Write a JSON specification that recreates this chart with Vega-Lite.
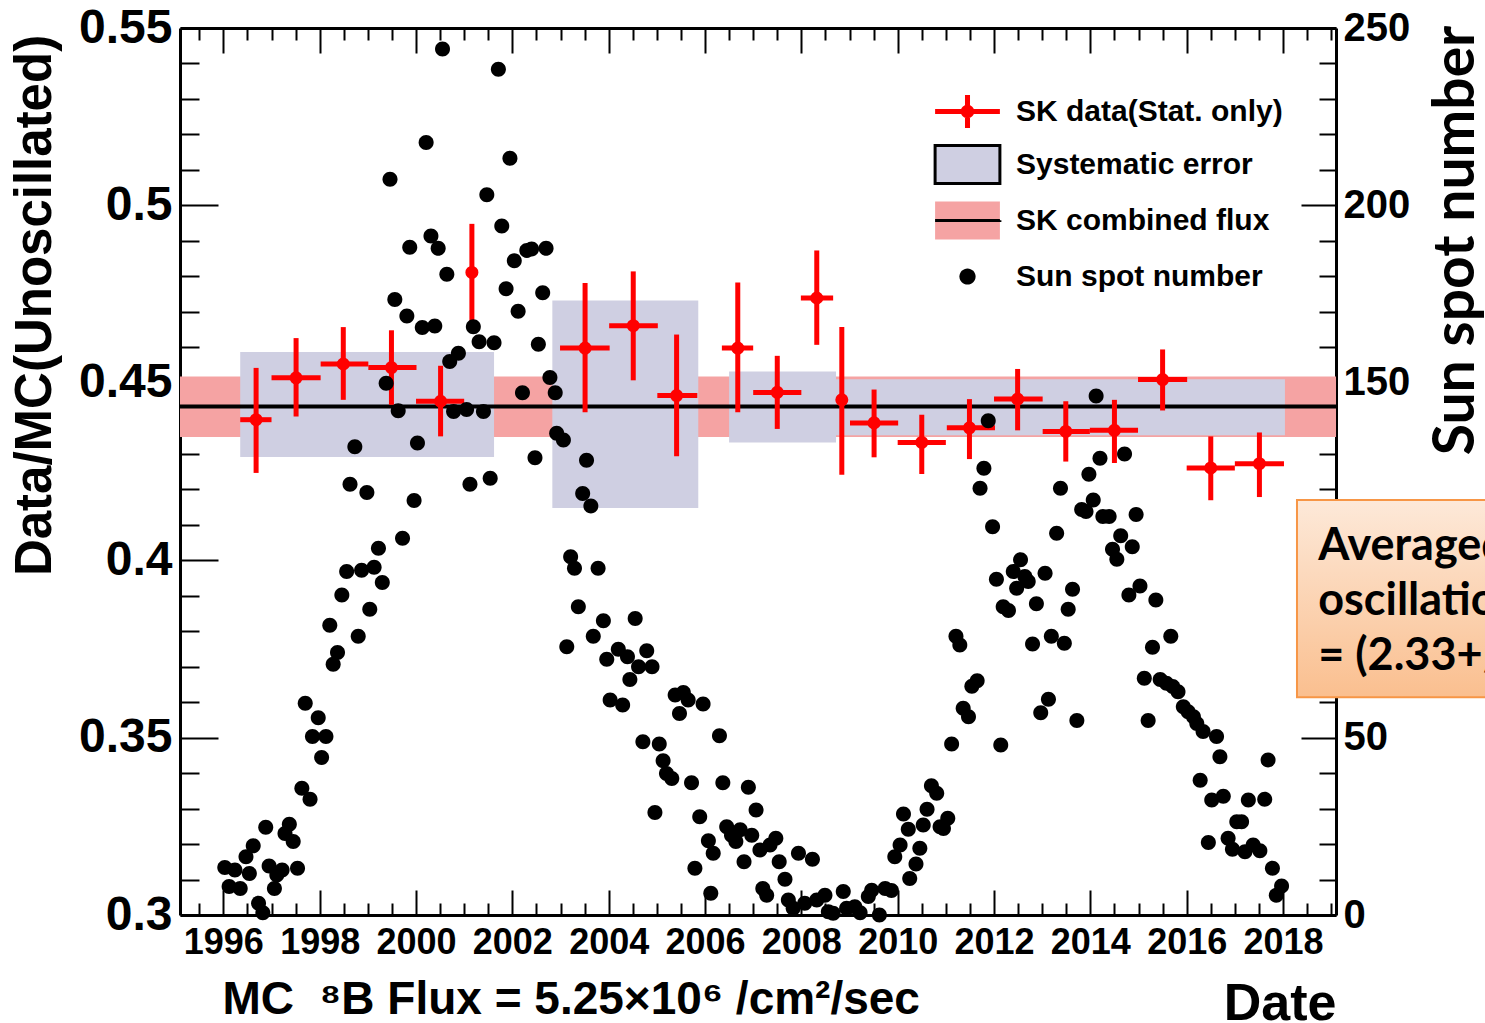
{
  "$schema": "https://vega.github.io/schema/vega-lite/v6.json",
  "autosize": {"type": "none"},
  "padding": {"left": 180, "top": 28, "right": 149, "bottom": 108},
  "width": 1156,
  "height": 887,
  "background": "white",
  "config": {"view": {"stroke": null}, "font": "Liberation Sans", "axis": {"labelOverlap": false, "labelFlush": false}},
  "datasets": {
    "band": [{"lo": 0.4347, "hi": 0.4518}],
    "sys": [
      {"x1": 1996.35, "x2": 2001.62, "lo": 0.4291, "hi": 0.4587},
      {"x1": 2002.83, "x2": 2005.86, "lo": 0.4147, "hi": 0.4732},
      {"x1": 2006.5, "x2": 2008.72, "lo": 0.4332, "hi": 0.4532},
      {"x1": 2008.72, "x2": 2018.04, "lo": 0.4352, "hi": 0.451}
    ],
    "sk": [
      {"x": 1996.68, "xlo": 1996.35, "xhi": 1997.0, "v": 0.4396, "lo": 0.4246, "hi": 0.4542},
      {"x": 1997.51, "xlo": 1997.0, "xhi": 1998.02, "v": 0.4514, "lo": 0.4405, "hi": 0.4626},
      {"x": 1998.49, "xlo": 1998.02, "xhi": 1999.01, "v": 0.4553, "lo": 0.4452, "hi": 0.4657},
      {"x": 1999.49, "xlo": 1999.01, "xhi": 2000.01, "v": 0.4543, "lo": 0.4438, "hi": 0.4648},
      {"x": 2000.51, "xlo": 2000.0, "xhi": 2001.0, "v": 0.4448, "lo": 0.4349, "hi": 0.4548},
      {"x": 2001.16, "xlo": 2001.1, "xhi": 2001.22, "v": 0.4811, "lo": 0.4673, "hi": 0.4948},
      {"x": 2003.51, "xlo": 2002.99, "xhi": 2004.02, "v": 0.4598, "lo": 0.4417, "hi": 0.4781},
      {"x": 2004.51, "xlo": 2004.01, "xhi": 2005.02, "v": 0.4661, "lo": 0.4507, "hi": 0.4814},
      {"x": 2005.41, "xlo": 2005.01, "xhi": 2005.84, "v": 0.4464, "lo": 0.4293, "hi": 0.4636},
      {"x": 2006.68, "xlo": 2006.35, "xhi": 2007.0, "v": 0.4598, "lo": 0.4417, "hi": 0.4783},
      {"x": 2007.5, "xlo": 2007.0, "xhi": 2008.0, "v": 0.4473, "lo": 0.437, "hi": 0.4576},
      {"x": 2008.32, "xlo": 2007.99, "xhi": 2008.66, "v": 0.4739, "lo": 0.4607, "hi": 0.4873},
      {"x": 2008.84, "xlo": 2008.78, "xhi": 2008.9, "v": 0.4452, "lo": 0.4241, "hi": 0.4657},
      {"x": 2009.51, "xlo": 2009.01, "xhi": 2010.01, "v": 0.4387, "lo": 0.429, "hi": 0.4481},
      {"x": 2010.5, "xlo": 2010.0, "xhi": 2011.0, "v": 0.4332, "lo": 0.4243, "hi": 0.441},
      {"x": 2011.49, "xlo": 2011.02, "xhi": 2012.02, "v": 0.4373, "lo": 0.4285, "hi": 0.4454},
      {"x": 2012.49, "xlo": 2012.0, "xhi": 2013.01, "v": 0.4454, "lo": 0.4366, "hi": 0.4539},
      {"x": 2013.49, "xlo": 2013.01, "xhi": 2013.99, "v": 0.4363, "lo": 0.4278, "hi": 0.4448},
      {"x": 2014.5, "xlo": 2013.99, "xhi": 2014.99, "v": 0.4366, "lo": 0.4274, "hi": 0.4452},
      {"x": 2015.5, "xlo": 2014.99, "xhi": 2016.01, "v": 0.4509, "lo": 0.4422, "hi": 0.4594},
      {"x": 2016.5, "xlo": 2016.0, "xhi": 2017.0, "v": 0.426, "lo": 0.4169, "hi": 0.4349},
      {"x": 2017.51, "xlo": 2017.0, "xhi": 2018.02, "v": 0.4272, "lo": 0.4178, "hi": 0.436}
    ],
    "sun": [
      {"t": 1996.03, "n": 13.4}, {"t": 1996.12, "n": 8.0}, {"t": 1996.24, "n": 12.7}, {"t": 1996.35, "n": 7.5},
      {"t": 1996.47, "n": 16.4}, {"t": 1996.54, "n": 11.7}, {"t": 1996.62, "n": 19.5}, {"t": 1996.73, "n": 3.3},
      {"t": 1996.82, "n": 0.6}, {"t": 1996.88, "n": 24.7}, {"t": 1996.95, "n": 13.8}, {"t": 1997.06, "n": 7.5},
      {"t": 1997.11, "n": 11.3}, {"t": 1997.22, "n": 12.7}, {"t": 1997.28, "n": 23.0}, {"t": 1997.37, "n": 25.6},
      {"t": 1997.45, "n": 20.7}, {"t": 1997.54, "n": 13.2}, {"t": 1997.63, "n": 35.7}, {"t": 1997.7, "n": 59.7},
      {"t": 1997.8, "n": 32.6}, {"t": 1997.85, "n": 50.3}, {"t": 1997.97, "n": 55.6}, {"t": 1998.04, "n": 44.4},
      {"t": 1998.13, "n": 50.3}, {"t": 1998.21, "n": 81.7}, {"t": 1998.28, "n": 70.7}, {"t": 1998.37, "n": 74.0},
      {"t": 1998.46, "n": 90.2}, {"t": 1998.56, "n": 96.8}, {"t": 1998.63, "n": 121.4}, {"t": 1998.73, "n": 132.0},
      {"t": 1998.8, "n": 78.6}, {"t": 1998.87, "n": 97.2}, {"t": 1998.98, "n": 119.1}, {"t": 1999.04, "n": 86.2},
      {"t": 1999.13, "n": 98.0}, {"t": 1999.22, "n": 103.4}, {"t": 1999.3, "n": 93.7}, {"t": 1999.38, "n": 149.9},
      {"t": 1999.46, "n": 207.4}, {"t": 1999.56, "n": 173.5}, {"t": 1999.63, "n": 142.1}, {"t": 1999.72, "n": 106.2},
      {"t": 1999.81, "n": 168.8}, {"t": 1999.87, "n": 188.2}, {"t": 1999.96, "n": 116.8}, {"t": 2000.03, "n": 133.0},
      {"t": 2000.13, "n": 165.6}, {"t": 2000.21, "n": 217.7}, {"t": 2000.31, "n": 191.4}, {"t": 2000.39, "n": 166.0},
      {"t": 2000.46, "n": 187.9}, {"t": 2000.55, "n": 244.1}, {"t": 2000.64, "n": 180.6}, {"t": 2000.7, "n": 156.0},
      {"t": 2000.78, "n": 141.9}, {"t": 2000.88, "n": 158.3}, {"t": 2001.05, "n": 142.5}, {"t": 2001.12, "n": 121.4},
      {"t": 2001.19, "n": 165.8}, {"t": 2001.31, "n": 161.6}, {"t": 2001.4, "n": 141.9}, {"t": 2001.47, "n": 203.0},
      {"t": 2001.54, "n": 123.1}, {"t": 2001.62, "n": 161.3}, {"t": 2001.71, "n": 238.4}, {"t": 2001.78, "n": 194.2},
      {"t": 2001.87, "n": 176.5}, {"t": 2001.95, "n": 213.3}, {"t": 2002.04, "n": 184.4}, {"t": 2002.12, "n": 170.2},
      {"t": 2002.21, "n": 147.2}, {"t": 2002.3, "n": 187.3}, {"t": 2002.4, "n": 187.7}, {"t": 2002.47, "n": 128.9},
      {"t": 2002.54, "n": 160.9}, {"t": 2002.63, "n": 175.4}, {"t": 2002.7, "n": 187.9}, {"t": 2002.78, "n": 151.5},
      {"t": 2002.89, "n": 147.2}, {"t": 2002.92, "n": 135.8}, {"t": 2003.06, "n": 133.9}, {"t": 2003.13, "n": 75.6},
      {"t": 2003.21, "n": 101.0}, {"t": 2003.29, "n": 97.7}, {"t": 2003.37, "n": 86.9}, {"t": 2003.46, "n": 118.8},
      {"t": 2003.54, "n": 128.2}, {"t": 2003.63, "n": 115.3}, {"t": 2003.68, "n": 78.6}, {"t": 2003.78, "n": 97.7},
      {"t": 2003.89, "n": 82.9}, {"t": 2003.96, "n": 72.1}, {"t": 2004.03, "n": 60.6}, {"t": 2004.2, "n": 74.9},
      {"t": 2004.29, "n": 59.2}, {"t": 2004.39, "n": 72.8}, {"t": 2004.44, "n": 66.4}, {"t": 2004.55, "n": 83.6},
      {"t": 2004.62, "n": 70.0}, {"t": 2004.71, "n": 48.8}, {"t": 2004.79, "n": 74.5}, {"t": 2004.9, "n": 70.0},
      {"t": 2004.96, "n": 28.9}, {"t": 2005.05, "n": 48.2}, {"t": 2005.13, "n": 43.5}, {"t": 2005.2, "n": 39.9},
      {"t": 2005.31, "n": 38.5}, {"t": 2005.38, "n": 62.0}, {"t": 2005.47, "n": 56.8}, {"t": 2005.55, "n": 62.7},
      {"t": 2005.65, "n": 60.6}, {"t": 2005.72, "n": 37.3}, {"t": 2005.79, "n": 13.2}, {"t": 2005.89, "n": 27.7},
      {"t": 2005.96, "n": 59.5}, {"t": 2006.07, "n": 20.9}, {"t": 2006.12, "n": 6.1}, {"t": 2006.17, "n": 17.4},
      {"t": 2006.3, "n": 50.5}, {"t": 2006.37, "n": 37.3}, {"t": 2006.45, "n": 24.9}, {"t": 2006.55, "n": 22.5},
      {"t": 2006.64, "n": 20.7}, {"t": 2006.73, "n": 24.0}, {"t": 2006.81, "n": 15.0}, {"t": 2006.9, "n": 36.0},
      {"t": 2006.97, "n": 22.5}, {"t": 2007.06, "n": 29.6}, {"t": 2007.14, "n": 18.3}, {"t": 2007.2, "n": 7.5},
      {"t": 2007.28, "n": 5.6}, {"t": 2007.35, "n": 19.7}, {"t": 2007.47, "n": 21.6}, {"t": 2007.54, "n": 15.0},
      {"t": 2007.66, "n": 10.1}, {"t": 2007.73, "n": 4.2}, {"t": 2007.83, "n": 1.9}, {"t": 2007.94, "n": 17.4},
      {"t": 2008.07, "n": 3.3}, {"t": 2008.23, "n": 15.7}, {"t": 2008.32, "n": 4.2}, {"t": 2008.49, "n": 5.6},
      {"t": 2008.56, "n": 0.9}, {"t": 2008.66, "n": 0.5}, {"t": 2008.87, "n": 6.6}, {"t": 2008.94, "n": 1.9},
      {"t": 2009.11, "n": 2.3}, {"t": 2009.22, "n": 0.6}, {"t": 2009.39, "n": 5.2}, {"t": 2009.46, "n": 7.0},
      {"t": 2009.62, "n": 0.0}, {"t": 2009.74, "n": 7.5}, {"t": 2009.87, "n": 6.9}, {"t": 2009.94, "n": 16.4},
      {"t": 2010.05, "n": 19.7}, {"t": 2010.12, "n": 28.5}, {"t": 2010.22, "n": 24.2}, {"t": 2010.25, "n": 10.3},
      {"t": 2010.38, "n": 14.4}, {"t": 2010.46, "n": 18.8}, {"t": 2010.53, "n": 25.4}, {"t": 2010.61, "n": 29.8},
      {"t": 2010.7, "n": 36.4}, {"t": 2010.81, "n": 34.3}, {"t": 2010.88, "n": 24.9}, {"t": 2010.95, "n": 24.4},
      {"t": 2011.04, "n": 27.3}, {"t": 2011.12, "n": 48.2}, {"t": 2011.21, "n": 78.6}, {"t": 2011.29, "n": 76.1},
      {"t": 2011.36, "n": 58.3}, {"t": 2011.47, "n": 55.9}, {"t": 2011.54, "n": 64.5}, {"t": 2011.65, "n": 66.0},
      {"t": 2011.71, "n": 120.3}, {"t": 2011.79, "n": 125.9}, {"t": 2011.88, "n": 139.3}, {"t": 2011.97, "n": 109.4},
      {"t": 2012.05, "n": 94.6}, {"t": 2012.14, "n": 47.9}, {"t": 2012.19, "n": 86.9}, {"t": 2012.3, "n": 85.8},
      {"t": 2012.4, "n": 96.8}, {"t": 2012.47, "n": 92.1}, {"t": 2012.55, "n": 100.1}, {"t": 2012.64, "n": 95.4},
      {"t": 2012.71, "n": 94.0}, {"t": 2012.8, "n": 76.4}, {"t": 2012.88, "n": 87.7}, {"t": 2012.97, "n": 57.0},
      {"t": 2013.06, "n": 96.3}, {"t": 2013.13, "n": 60.8}, {"t": 2013.19, "n": 78.6}, {"t": 2013.3, "n": 107.6},
      {"t": 2013.38, "n": 120.3}, {"t": 2013.46, "n": 76.6}, {"t": 2013.54, "n": 86.2}, {"t": 2013.63, "n": 91.8},
      {"t": 2013.72, "n": 54.8}, {"t": 2013.82, "n": 114.3}, {"t": 2013.91, "n": 113.7}, {"t": 2013.97, "n": 124.2},
      {"t": 2014.06, "n": 117.0}, {"t": 2014.12, "n": 146.3}, {"t": 2014.2, "n": 128.7}, {"t": 2014.26, "n": 112.3},
      {"t": 2014.39, "n": 112.3}, {"t": 2014.46, "n": 103.1}, {"t": 2014.55, "n": 100.3}, {"t": 2014.63, "n": 106.9},
      {"t": 2014.71, "n": 129.9}, {"t": 2014.8, "n": 90.2}, {"t": 2014.87, "n": 103.8}, {"t": 2014.95, "n": 112.9},
      {"t": 2015.03, "n": 92.7}, {"t": 2015.12, "n": 66.7}, {"t": 2015.2, "n": 54.8}, {"t": 2015.29, "n": 75.5},
      {"t": 2015.36, "n": 88.8}, {"t": 2015.45, "n": 66.4}, {"t": 2015.58, "n": 65.3}, {"t": 2015.67, "n": 78.6},
      {"t": 2015.71, "n": 64.4}, {"t": 2015.82, "n": 62.9}, {"t": 2015.93, "n": 58.7}, {"t": 2016.03, "n": 57.3},
      {"t": 2016.14, "n": 55.9}, {"t": 2016.21, "n": 54.0}, {"t": 2016.28, "n": 38.0}, {"t": 2016.34, "n": 51.7},
      {"t": 2016.45, "n": 20.4}, {"t": 2016.52, "n": 32.4}, {"t": 2016.62, "n": 50.3}, {"t": 2016.69, "n": 44.6},
      {"t": 2016.76, "n": 33.5}, {"t": 2016.86, "n": 21.6}, {"t": 2016.95, "n": 18.5}, {"t": 2017.04, "n": 26.3},
      {"t": 2017.14, "n": 26.3}, {"t": 2017.21, "n": 17.8}, {"t": 2017.28, "n": 32.4}, {"t": 2017.38, "n": 19.7},
      {"t": 2017.52, "n": 18.1}, {"t": 2017.62, "n": 32.6}, {"t": 2017.69, "n": 43.7}, {"t": 2017.78, "n": 13.2},
      {"t": 2017.86, "n": 5.6}, {"t": 2017.97, "n": 8.2}
    ]
  },
  "layer": [
    {
      "data": {"name": "band"},
      "mark": {"type": "rect", "color": "#f5a3a3"},
      "encoding": {
        "y": {
          "field": "lo", "type": "quantitative",
          "scale": {"domain": [0.3, 0.55], "nice": false, "zero": false},
          "axis": {
            "orient": "left",
            "values": [0.3,0.31,0.32,0.33,0.34,0.35,0.36,0.37,0.38,0.39,0.4,0.41,0.42,0.43,0.44,0.45,0.46,0.47,0.48,0.49,0.5,0.51,0.52,0.53,0.54,0.55],
            "labelExpr": "round(datum.value*100) % 5 === 0 ? format(datum.value, '~g') : ''",
            "tickSize": {"condition": {"test": "round(datum.value*100) % 5 === 0", "value": -38}, "value": -19},
            "tickWidth": 2, "tickColor": "black",
            "domainColor": "black", "domainWidth": 3,
            "grid": false,
            "labelFont": "Liberation Sans", "labelFontWeight": "bold", "labelFontSize": 48, "labelColor": "black",
            "labelPadding": 46, "labelOverlap": false, "labelFlush": false, "labelBaseline": "middle",
            "title": "Data/MC(Unoscillated)",
            "titleFont": "Liberation Sans", "titleFontWeight": "bold", "titleFontSize": 51, "titleColor": "black",
            "titleX": -145, "titleY": 277, "titleAngle": -90, "titleAlign": "center", "titleBaseline": "middle"
          }
        },
        "y2": {"field": "hi"}
      }
    },
    {
      "data": {"name": "sys"},
      "mark": {"type": "rect", "color": "#cfcfe2"},
      "encoding": {
        "x": {
          "field": "x1", "type": "quantitative",
          "scale": {"domain": [1995.1, 2019.1], "nice": false, "zero": false},
          "axis": {
            "orient": "bottom",
            "values": [1995.5,1996,1996.5,1997,1997.5,1998,1998.5,1999,1999.5,2000,2000.5,2001,2001.5,2002,2002.5,2003,2003.5,2004,2004.5,2005,2005.5,2006,2006.5,2007,2007.5,2008,2008.5,2009,2009.5,2010,2010.5,2011,2011.5,2012,2012.5,2013,2013.5,2014,2014.5,2015,2015.5,2016,2016.5,2017,2017.5,2018,2018.5,2019],
            "labelExpr": "datum.value % 2 === 0 ? format(datum.value, 'd') : ''",
            "tickSize": {"condition": {"test": "datum.value % 2 === 0", "value": -25}, "value": -12},
            "tickWidth": 2, "tickColor": "black",
            "domainColor": "black", "domainWidth": 3,
            "grid": false,
            "labelFont": "Liberation Sans", "labelFontWeight": "bold", "labelFontSize": 36, "labelColor": "black",
            "labelPadding": 35, "labelOverlap": false, "labelFlush": false,
            "title": "Date",
            "titleFont": "Liberation Sans", "titleFontWeight": "bold", "titleFontSize": 52, "titleColor": "black",
            "titleX": 1156, "titleY": 104, "titleAlign": "right", "titleBaseline": "alphabetic"
          }
        },
        "x2": {"field": "x2"},
        "y": {"field": "lo", "type": "quantitative", "scale": {"domain": [0.3, 0.55], "nice": false, "zero": false}, "axis": null},
        "y2": {"field": "hi"}
      }
    },
    {
      "layer": [
        {
          "data": {"values": [{}]},
          "mark": {"type": "rule", "color": "black", "strokeWidth": 4},
          "encoding": {"y": {"datum": 0.4433, "type": "quantitative", "scale": {"domain": [0.3, 0.55], "nice": false, "zero": false}, "axis": null}}
        },
        {
          "data": {"name": "sk"},
          "mark": {"type": "rule", "strokeWidth": 5, "color": "#ff0000"},
          "encoding": {
            "x": {"field": "x", "type": "quantitative", "axis": null},
            "y": {"field": "lo", "type": "quantitative", "axis": null},
            "y2": {"field": "hi"}
          }
        },
        {
          "data": {"name": "sk"},
          "mark": {"type": "rule", "strokeWidth": 5, "color": "#ff0000"},
          "encoding": {
            "x": {"field": "xlo", "type": "quantitative", "axis": null},
            "x2": {"field": "xhi"},
            "y": {"field": "v", "type": "quantitative", "axis": null}
          }
        },
        {
          "data": {"name": "sk"},
          "mark": {"type": "circle", "size": 170, "opacity": 1, "color": "#ff0000"},
          "encoding": {
            "x": {"field": "x", "type": "quantitative", "axis": null},
            "y": {"field": "v", "type": "quantitative", "axis": null}
          }
        },
        {
          "data": {"values": [{}]},
          "mark": {
            "type": "rect", "stroke": "#f79646", "strokeWidth": 2,
            "fill": {"gradient": "linear", "x1": 0, "y1": 0, "x2": 0, "y2": 1, "stops": [{"offset": 0, "color": "#fde9d9"}, {"offset": 1, "color": "#fabf8f"}]}
          },
          "encoding": {
            "x": {"datum": 2018.29, "type": "quantitative", "axis": null},
            "x2": {"datum": 2022.5},
            "y": {"datum": 0.417, "type": "quantitative", "axis": null},
            "y2": {"datum": 0.3614}
          }
        },
        {
          "data": {"values": [{}]},
          "mark": {"type": "text", "align": "left", "baseline": "alphabetic", "font": "Lato", "fontWeight": "bold", "fontSize": 45, "lineHeight": 55, "color": "black"},
          "encoding": {
            "x": {"datum": 2018.73, "type": "quantitative", "axis": null},
            "y": {"datum": 0.4001, "type": "quantitative", "axis": null},
            "text": {"value": ["Averaged", "oscillation", "= (2.33+/-"]}
          }
        }
      ]
    },
    {
      "data": {"name": "sun"},
      "mark": {"type": "point", "filled": true, "opacity": 1, "size": 2500},
      "encoding": {
        "x": {
          "field": "t", "type": "quantitative",
          "scale": {"domain": [1995.1, 2019.1], "nice": false, "zero": false},
          "axis": {
            "orient": "top",
            "values": [1995.5,1996,1996.5,1997,1997.5,1998,1998.5,1999,1999.5,2000,2000.5,2001,2001.5,2002,2002.5,2003,2003.5,2004,2004.5,2005,2005.5,2006,2006.5,2007,2007.5,2008,2008.5,2009,2009.5,2010,2010.5,2011,2011.5,2012,2012.5,2013,2013.5,2014,2014.5,2015,2015.5,2016,2016.5,2017,2017.5,2018,2018.5,2019],
            "labels": false, "grid": false,
            "tickSize": {"condition": {"test": "datum.value % 2 === 0", "value": -25}, "value": -12},
            "tickWidth": 2, "tickColor": "black",
            "domainColor": "black", "domainWidth": 3,
            "title": "MC\u00a0\u00a0\u2078B Flux = 5.25\u00d710\u2076 /cm\u00b2/sec",
            "titleFont": "Liberation Sans", "titleFontWeight": "bold", "titleFontSize": 46, "titleColor": "black",
            "titleX": 42, "titleY": 985, "titleAlign": "left", "titleBaseline": "alphabetic", "titleAngle": 0
          }
        },
        "y": {
          "field": "n", "type": "quantitative",
          "scale": {"domain": [0, 250], "nice": false, "zero": false},
          "axis": {
            "orient": "right",
            "values": [0,10,20,30,40,50,60,70,80,90,100,110,120,130,140,150,160,170,180,190,200,210,220,230,240,250],
            "labelExpr": "datum.value % 50 === 0 ? format(datum.value, 'd') : ''",
            "tickSize": {"condition": {"test": "datum.value % 50 === 0", "value": -35}, "value": -17},
            "tickWidth": 2, "tickColor": "black",
            "domainColor": "black", "domainWidth": 3,
            "grid": false,
            "labelFont": "Liberation Sans", "labelFontWeight": "bold", "labelFontSize": 40, "labelColor": "black",
            "labelPadding": 42, "labelOverlap": false, "labelFlush": false, "labelBaseline": "middle",
            "title": "Sun spot number",
            "titleFont": "Lato", "titleFontWeight": "bold", "titleFontSize": 57, "titleColor": "black",
            "titleX": 120, "titleY": 212, "titleAngle": -90, "titleAlign": "center", "titleBaseline": "middle"
          }
        },
        "color": {
          "datum": "Sun spot number", "type": "nominal",
          "scale": {
            "domain": ["SK data(Stat. only)", "Systematic error", "SK combined flux", "Sun spot number"],
            "range": ["#ff0000", "#cfcfe2", "#f5a3a3", "#000000"]
          },
          "legend": {
            "orient": "none", "legendX": 759, "legendY": 55, "direction": "vertical",
            "title": null, "padding": 0, "rowPadding": 2, "labelOffset": 20,
            "symbolSize": 2916, "symbolStrokeWidth": 3, "symbolOpacity": 1,
            "labelFont": "Liberation Sans", "labelFontWeight": "bold", "labelFontSize": 30, "labelColor": "black", "labelLimit": 500
          }
        },
        "shape": {
          "datum": "Sun spot number", "type": "nominal",
          "scale": {
            "domain": ["SK data(Stat. only)", "Systematic error", "SK combined flux", "Sun spot number"],
            "range": [
              "M-1.2,-0.093H1.2V0.093H-1.2Z M-0.093,-0.61H0.093V0.61H-0.093Z M0.25,0A0.25,0.25,0,1,1,-0.25,0A0.25,0.25,0,1,1,0.25,0Z",
              "M-1.2,-0.7H1.2V0.7H-1.2Z",
              "M-1.2,0H1.2V-0.7H-1.2V0.7H1.2V0Z",
              "M0.3,0A0.3,0.3,0,1,1,-0.3,0A0.3,0.3,0,1,1,0.3,0Z"
            ]
          },
          "legend": {
            "orient": "none", "legendX": 759, "legendY": 55, "direction": "vertical",
            "title": null, "padding": 0, "rowPadding": 2, "labelOffset": 20,
            "symbolSize": 2916, "symbolStrokeWidth": 3, "symbolOpacity": 1,
            "labelFont": "Liberation Sans", "labelFontWeight": "bold", "labelFontSize": 30, "labelColor": "black", "labelLimit": 500
          }
        },
        "stroke": {
          "datum": "Sun spot number", "type": "nominal",
          "scale": {
            "domain": ["SK data(Stat. only)", "Systematic error", "SK combined flux", "Sun spot number"],
            "range": ["transparent", "#000000", "#000000", "transparent"]
          },
          "legend": {
            "orient": "none", "legendX": 759, "legendY": 55, "direction": "vertical",
            "title": null, "padding": 0, "rowPadding": 2, "labelOffset": 20,
            "symbolSize": 2916, "symbolStrokeWidth": 3, "symbolOpacity": 1,
            "labelFont": "Liberation Sans", "labelFontWeight": "bold", "labelFontSize": 30, "labelColor": "black", "labelLimit": 500
          }
        },
        "strokeDash": {
          "datum": "Sun spot number", "type": "nominal",
          "scale": {
            "domain": ["SK data(Stat. only)", "Systematic error", "SK combined flux", "Sun spot number"],
            "range": [[1, 0], [1, 0], [65, 3000], [1, 0]]
          },
          "legend": {
            "orient": "none", "legendX": 759, "legendY": 55, "direction": "vertical",
            "title": null, "padding": 0, "rowPadding": 2, "labelOffset": 20,
            "symbolSize": 2916, "symbolStrokeWidth": 3, "symbolOpacity": 1,
            "labelFont": "Liberation Sans", "labelFontWeight": "bold", "labelFontSize": 30, "labelColor": "black", "labelLimit": 500
          }
        }
      }
    }
  ],
  "resolve": {"scale": {"y": "independent"}, "axis": {"x": "independent", "y": "independent"}}
}
